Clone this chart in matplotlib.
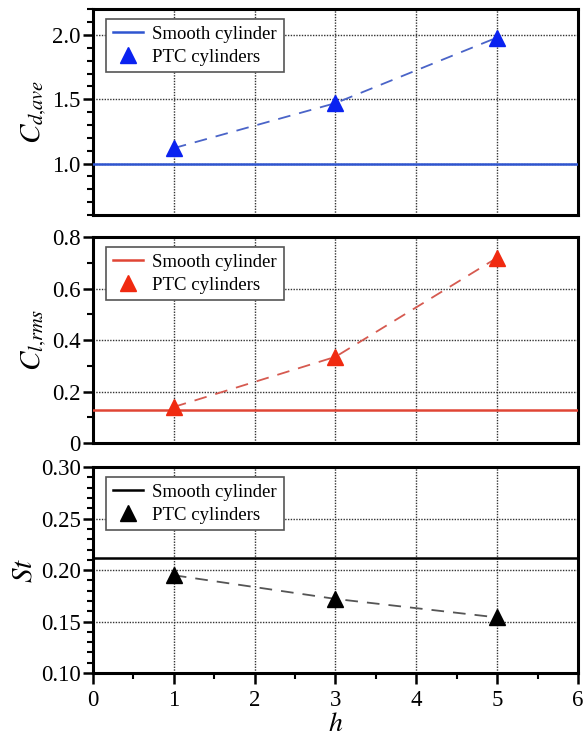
import matplotlib
matplotlib.use("Agg")
import matplotlib.pyplot as plt
from matplotlib.ticker import MultipleLocator

# data
h = [1, 3, 5]
cd_ave = [1.12, 1.47, 1.98]
cl_rms = [0.14, 0.335, 0.72]
st = [0.195, 0.172, 0.154]
cd_smooth = 1.0
cl_smooth = 0.13
st_smooth = 0.212

plt.rcParams['font.family'] = ['Liberation Serif', 'DejaVu Serif']
plt.rcParams['mathtext.fontset'] = 'stix'

fig = plt.figure(figsize=(5.85, 7.43), dpi=100)

panels = [
    # bottom, values, smooth, line colour, marker colour, dash colour, ylim, minor, label, ticks
    (0.7106, cd_ave, cd_smooth, '#2f55d0', '#0a22f0', '#4a64c8', (0.6, 2.2), 0.1,
     r'$C_{d{,}ave}$', ['1.0', '1.5', '2.0'], [1.0, 1.5, 2.0]),
    (0.4038, cl_rms, cl_smooth, '#e04535', '#f02a10', '#d65a50', (0, 0.8), 0.1,
     r'$C_{l{,}rms}$', ['0', '0.2', '0.4', '0.6', '0.8'], [0, 0.2, 0.4, 0.6, 0.8]),
    (0.0942, st, st_smooth, 'black', 'black', '#555555', (0.10, 0.30), 0.01,
     r'$St$', ['0.10', '0.15', '0.20', '0.25', '0.30'], [0.10, 0.15, 0.20, 0.25, 0.30]),
]

for i, (bot, vals, smooth, lc, mc, dc, ylim, minor, lab, tl, tv) in enumerate(panels):
    ax = fig.add_axes([0.159, bot, 0.829, 0.277])
    ax.axhline(smooth, color=lc, lw=1.8, label='Smooth cylinder', zorder=3)
    ax.plot(h, vals, ls=(0, (7, 5)), color=dc, lw=1.3, zorder=3)
    ax.plot(h, vals, ls='none', marker='^', ms=11, color=mc,
            label='PTC cylinders', zorder=4)
    ax.set_xlim(0, 6)
    ax.set_ylim(*ylim)
    ax.set_yticks(tv)
    ax.set_yticklabels(tl)
    ax.yaxis.set_minor_locator(MultipleLocator(minor))
    ax.xaxis.set_major_locator(MultipleLocator(1))
    ax.xaxis.set_minor_locator(MultipleLocator(0.5))
    ax.grid(True, which='major', ls=(0, (1, 1)), color='#333333', lw=1.0)
    for s in ax.spines.values():
        s.set_linewidth(2.2)
    ax.tick_params(axis='y', which='major', direction='out', length=7, width=1.8,
                   labelsize=16.5, pad=2)
    ax.tick_params(axis='y', which='minor', direction='out', length=4, width=1.5)
    if i < 2:
        ax.tick_params(axis='x', which='both', length=0, labelbottom=False)
    else:
        ax.tick_params(axis='x', which='major', direction='out', length=8, width=1.8,
                       labelsize=16.5, pad=4)
        ax.tick_params(axis='x', which='minor', direction='out', length=4, width=1.5)
        ax.set_xlabel(r'$h$', fontsize=20, labelpad=1)
    ax.set_ylabel(lab, fontsize=21, labelpad=2)
    leg = ax.legend(loc='upper left', bbox_to_anchor=(0.02, 0.97), fontsize=13.5,
                    fancybox=False, framealpha=1, edgecolor='#555555',
                    handlelength=1.6, handletextpad=0.5, borderpad=0.35,
                    labelspacing=0.3, borderaxespad=0.2)
    leg.get_frame().set_linewidth(1.2)

fig.savefig('out.png', dpi=100)
